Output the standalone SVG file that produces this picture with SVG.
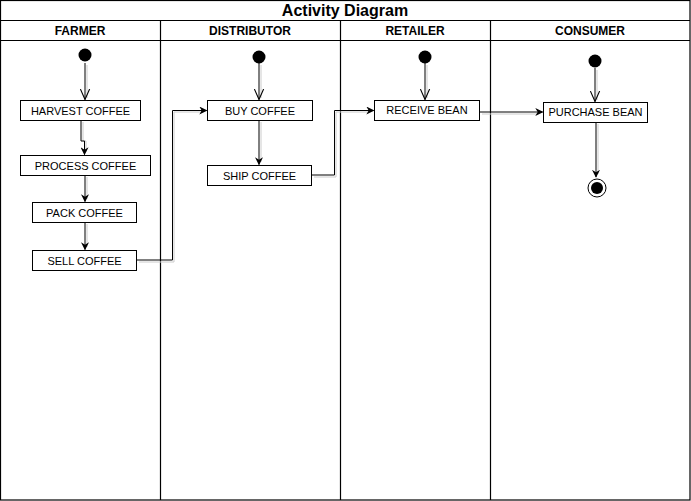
<svg xmlns="http://www.w3.org/2000/svg" xmlns:xlink="http://www.w3.org/1999/xlink" width="691" height="501" viewBox="0 0 691 501">
<style>
.frame{fill:none;stroke:#000;stroke-width:1.2}
.title{font-family:"Liberation Sans",Arial,sans-serif;font-weight:bold;font-size:16px;fill:#000}
.hdr{font-family:"Liberation Sans",Arial,sans-serif;font-weight:bold;font-size:12px;fill:#000}
.box{fill:#fff;stroke:#000;stroke-width:1}
.lbl{font-family:"Liberation Sans",Arial,sans-serif;font-size:11px;fill:#000}
.c{fill:none;stroke:#000;stroke-width:1}
.sh{fill:none;stroke:#cccccc;stroke-width:1}
</style>
<defs>
<marker id="fill" viewBox="0 0 10 10" refX="9" refY="5" markerWidth="8" markerHeight="8" orient="auto" markerUnits="userSpaceOnUse">
<path d="M0,0 L10,5 L0,10 L3,5 Z" fill="#000"/>
</marker>
<marker id="open" viewBox="0 0 10 10" refX="9.5" refY="5" markerWidth="11" markerHeight="11" orient="auto" markerUnits="userSpaceOnUse">
<path d="M0,0.8 L9.5,5 L0,9.2" fill="none" stroke="#000" stroke-width="1"/>
</marker>
</defs>
<rect width="691" height="501" fill="#fff"/>
<g id="frame">
<rect class="frame" x="0.5" y="0.5" width="689.5" height="499.5"/>
<line class="frame" x1="0" y1="20.5" x2="690" y2="20.5"/>
<line class="frame" x1="0" y1="40.5" x2="690" y2="40.5"/>
<line class="frame" x1="160.5" y1="20" x2="160.5" y2="500"/>
<line class="frame" x1="340.5" y1="20" x2="340.5" y2="500"/>
<line class="frame" x1="490.5" y1="20" x2="490.5" y2="500"/>
<text class="title" x="345" y="16" text-anchor="middle">Activity Diagram</text>
<text class="hdr" x="80" y="34.5" text-anchor="middle">FARMER</text>
<text class="hdr" x="250" y="34.5" text-anchor="middle">DISTRIBUTOR</text>
<text class="hdr" x="415" y="34.5" text-anchor="middle">RETAILER</text>
<text class="hdr" x="590" y="34.5" text-anchor="middle">CONSUMER</text>
</g>
<g id="connectors">
<g transform="translate(2,2)">
<path class="sh" d="M85,63 V96"/>
<path class="sh" d="M81,120 V139 H84 V150"/>
<path class="sh" d="M85,175 V197"/>
<path class="sh" d="M85,222 V245"/>
<path class="sh" d="M137,260 H172 V110 H200"/>
<path class="sh" d="M259,63 V96"/>
<path class="sh" d="M259,120 V160"/>
<path class="sh" d="M312,175 H334 V110 H367"/>
<path class="sh" d="M425,63 V96"/>
<path class="sh" d="M480,112 H536"/>
<path class="sh" d="M595,68 V98"/>
<path class="sh" d="M596,122 V172"/>
</g>
<path class="c" d="M85,63 V99.5" marker-end="url(#open)"/>
<path class="c" d="M81,120 V141 H84.5 V154.5" marker-end="url(#fill)"/>
<path class="c" d="M85,175 V201.5" marker-end="url(#fill)"/>
<path class="c" d="M85,222 V249.5" marker-end="url(#fill)"/>
<path class="c" d="M137,260 H172.5 V110.5 H206.5" marker-end="url(#fill)"/>
<path class="c" d="M259,63 V99.5" marker-end="url(#open)"/>
<path class="c" d="M259,120 V164.5" marker-end="url(#fill)"/>
<path class="c" d="M312,175 H334.5 V110.5 H373.5" marker-end="url(#fill)"/>
<path class="c" d="M425,63 V99.5" marker-end="url(#open)"/>
<path class="c" d="M480,112 H542.5" marker-end="url(#fill)"/>
<path class="c" d="M595,68 V101.5" marker-end="url(#open)"/>
<path class="c" d="M596,122 V177" marker-end="url(#fill)"/>
</g>
<g id="start-farmer"><circle cx="85" cy="55" r="6.5" fill="#000"/></g>
<g id="start-distributor"><circle cx="259" cy="57" r="6.5" fill="#000"/></g>
<g id="start-retailer"><circle cx="425" cy="57" r="6.5" fill="#000"/></g>
<g id="start-consumer"><circle cx="595" cy="61" r="6.5" fill="#000"/></g>
<g id="harvest"><rect class="box" x="20.5" y="100.5" width="120" height="20"/><text class="lbl" x="80.5" y="114.5" text-anchor="middle">HARVEST COFFEE</text></g>
<g id="process"><rect class="box" x="20.5" y="155.5" width="130" height="20"/><text class="lbl" x="85.5" y="169.5" text-anchor="middle">PROCESS COFFEE</text></g>
<g id="pack"><rect class="box" x="32.5" y="202.5" width="104" height="20"/><text class="lbl" x="84.5" y="216.5" text-anchor="middle">PACK COFFEE</text></g>
<g id="sell"><rect class="box" x="32.5" y="250.5" width="104" height="20"/><text class="lbl" x="84.5" y="264.5" text-anchor="middle">SELL COFFEE</text></g>
<g id="buy"><rect class="box" x="207.5" y="100.5" width="105" height="20"/><text class="lbl" x="260" y="114.5" text-anchor="middle">BUY COFFEE</text></g>
<g id="ship"><rect class="box" x="207.5" y="165.5" width="104" height="20"/><text class="lbl" x="259.5" y="179.5" text-anchor="middle">SHIP COFFEE</text></g>
<g id="receive"><rect class="box" x="374.5" y="100.5" width="105" height="20"/><text class="lbl" x="427" y="113.5" text-anchor="middle">RECEIVE BEAN</text></g>
<g id="purchase"><rect class="box" x="543.5" y="102.5" width="104" height="20"/><text class="lbl" x="595.5" y="116" text-anchor="middle">PURCHASE BEAN</text></g>
<g id="final"><circle cx="597" cy="188" r="9" fill="#fff" stroke="#000" stroke-width="1"/><circle cx="597" cy="188" r="6" fill="#000"/></g>
</svg>
